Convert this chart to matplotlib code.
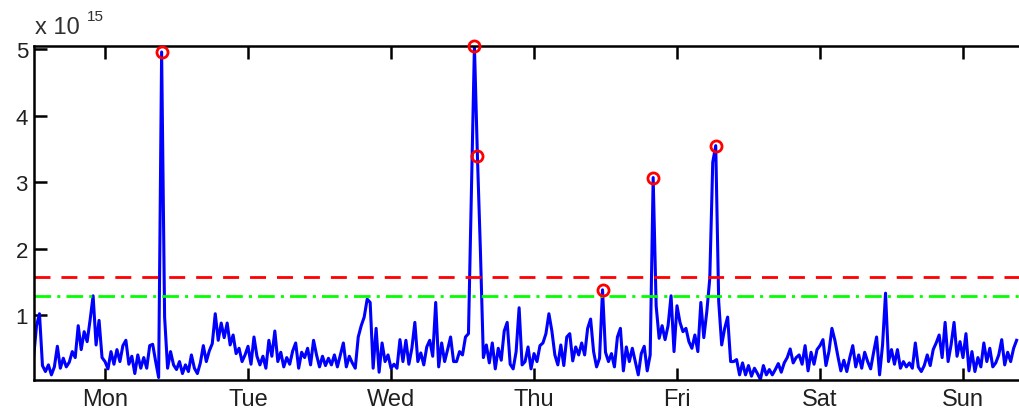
import matplotlib
matplotlib.use("Agg")
import matplotlib.pyplot as plt
import numpy as np

plt.rcParams.update({
    "font.family": ["Liberation Sans", "DejaVu Sans"],
    "axes.linewidth": 1.8,
    "xtick.direction": "in",
    "ytick.direction": "in",
    "xtick.major.size": 9,
    "ytick.major.size": 9,
    "xtick.major.width": 1.8,
    "ytick.major.width": 1.8,
})
BLUE, RED, GREEN = "#0000ff", "#ff0000", "#00ff00"

# traffic volume, 48 samples per day (units of 1e15), Monday 00:00 onwards
SAMPLES_PER_DAY = 48
volume = [
    0.35, 0.84, 1.02, 0.24, 0.15, 0.25, 0.10, 0.22, 0.53, 0.20,
    0.35, 0.22, 0.29, 0.45, 0.36, 0.84, 0.48, 0.75, 0.60, 0.93,
    1.29, 0.55, 0.92, 0.36, 0.30, 0.19, 0.45, 0.26, 0.48, 0.30,
    0.54, 0.62, 0.26, 0.38, 0.12, 0.40, 0.20, 0.36, 0.20, 0.54,
    0.56, 0.30, 0.06, 4.96, 0.97, 0.20, 0.45, 0.25,
    0.18, 0.30, 0.12, 0.25, 0.15, 0.40, 0.20, 0.12, 0.28, 0.54,
    0.30, 0.46, 0.57, 1.02, 0.62, 0.88, 0.66, 0.88, 0.55, 0.70,
    0.42, 0.50, 0.30, 0.40, 0.53, 0.26, 0.67, 0.38, 0.25, 0.38,
    0.20, 0.62, 0.38, 0.76, 0.30, 0.44, 0.22, 0.36, 0.26, 0.46,
    0.58, 0.20, 0.44, 0.36, 0.50, 0.25, 0.62,
    0.40, 0.22, 0.38, 0.24, 0.35, 0.25, 0.40, 0.22, 0.40, 0.58,
    0.22, 0.38, 0.28, 0.20, 0.67, 0.84, 0.97, 1.24, 1.19, 0.20,
    0.80, 0.14, 0.58, 0.30, 0.40, 0.20, 0.26, 0.20, 0.63, 0.30,
    0.62, 0.26, 0.50, 0.89, 0.30, 0.43, 0.25, 0.52, 0.62, 0.38,
    1.19, 0.22, 0.58, 0.30, 0.48, 0.67, 0.30,
    0.30, 0.45, 0.40, 0.67, 0.72, 2.87, 5.05, 3.40, 1.98, 0.36,
    0.55, 0.28, 0.58, 0.19, 0.50, 0.32, 0.76, 0.89, 0.26, 0.19,
    0.45, 1.11, 0.25, 0.30, 0.52, 0.19, 0.42, 0.30, 0.54, 0.58,
    0.72, 1.02, 0.76, 0.40, 0.25, 0.55, 0.24, 0.67, 0.72, 0.31,
    0.52, 0.40, 0.58, 0.40, 0.80, 0.94, 0.45,
    0.22, 0.35, 1.38, 0.44, 0.30, 0.42, 0.22, 0.67, 0.80, 0.16,
    0.52, 0.30, 0.50, 0.30, 0.10, 0.42, 0.53, 0.16, 0.40, 3.07,
    1.14, 0.65, 0.84, 0.63, 0.84, 1.29, 0.45, 1.14, 0.89, 0.75,
    0.80, 0.60, 0.50, 0.70, 0.45, 1.19, 0.66, 1.05, 1.55, 3.30,
    3.55, 1.20, 0.55, 0.80, 0.97, 0.30, 0.30,
    0.33, 0.10, 0.28, 0.10, 0.24, 0.08, 0.20, 0.12, 0.03, 0.24,
    0.10, 0.18, 0.10, 0.18, 0.27, 0.14, 0.28, 0.36, 0.49, 0.28,
    0.36, 0.40, 0.26, 0.54, 0.16, 0.44, 0.26, 0.48, 0.54, 0.63,
    0.24, 0.45, 0.80, 0.62, 0.38, 0.16, 0.32, 0.15, 0.36, 0.54,
    0.22, 0.40, 0.20, 0.44, 0.30, 0.19, 0.44,
    0.67, 0.10, 0.55, 1.33, 0.30, 0.48, 0.26, 0.48, 0.20, 0.30,
    0.22, 0.28, 0.20, 0.58, 0.22, 0.15, 0.24, 0.40, 0.24, 0.48,
    0.58, 0.70, 0.36, 0.89, 0.30, 0.55, 0.89, 0.38, 0.60, 0.36,
    0.72, 0.16, 0.45, 0.15, 0.36, 0.22, 0.58, 0.30, 0.50, 0.22,
    0.28, 0.40, 0.63, 0.25, 0.44, 0.30, 0.50, 0.62,
]
# samples flagged as anomalies
anomaly_idx = [43, 148, 149, 191, 208, 229]
# detection thresholds
thresh_high = 1.58
thresh_low = 1.28
days = ["Mon", "Tue", "Wed", "Thu", "Fri", "Sat", "Sun"]

v = np.array(volume)
t = np.arange(len(v)) / SAMPLES_PER_DAY

fig = plt.figure(figsize=(10.19, 4.14), dpi=100)
ax = fig.add_axes([0.0329, 0.0809, 0.9823, 0.8056])

ax.plot(t, v, color=BLUE, lw=2.2)
ax.axhline(thresh_high, color=RED, lw=2.0, ls=(0, (5.75, 3.95)))
ax.axhline(thresh_low, color=GREEN, lw=2.0, ls=(0, (6, 2.2, 1.1, 2.2)))
ax.plot(t[anomaly_idx], v[anomaly_idx], "o", mfc="none", mec=RED,
        ms=8, mew=2.0, clip_on=False, zorder=5)

ax.set_xlim(0, 7)
ax.set_ylim(0.03, 5.05)
ax.set_xticks(np.arange(len(days)) + 0.5)
ax.set_xticklabels(days)
ax.set_yticks([1, 2, 3, 4, 5])
ax.set_yticklabels(["1", "2", "3", "4", "5"])
ax.tick_params(axis="x", top=True, labelsize=17, pad=6, labelcolor="#202020")
ax.tick_params(axis="y", right=True, labelsize=16, pad=4, labelcolor="#202020")

fig.text(35 / 1019, 1 - 28 / 414, "x 10", fontsize=17, va="center", ha="left",
         color="#303030")
fig.text(87 / 1019, 1 - 17 / 414, "15", fontsize=11, va="center", ha="left",
         color="#303030")

fig.savefig("out.png", dpi=100)
